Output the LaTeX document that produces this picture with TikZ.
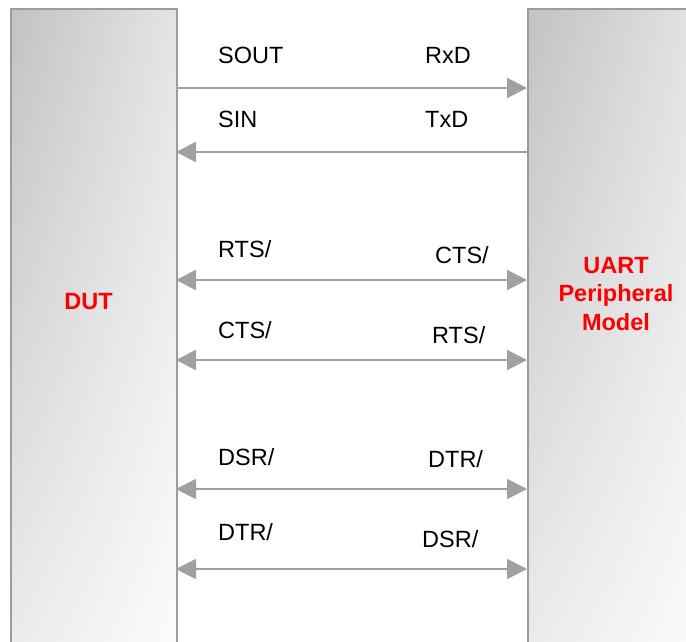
\documentclass[tikz,border=0pt]{standalone}
\usepackage{fontspec}
\setmainfont{Liberation Sans}
\usetikzlibrary{arrows.meta,shadings}
\definecolor{edgegray}{HTML}{9C9C9C}
\definecolor{arrowgray}{HTML}{A0A0A0}
\definecolor{lblred}{HTML}{FF0000}
\definecolor{cul}{HTML}{C2C2C2}
\definecolor{cur}{HTML}{E4E4E4}
\definecolor{cll}{HTML}{ECECEC}
\definecolor{clr}{HTML}{FCFCFC}
\tikzset{
  blockbox/.style={draw=edgegray, line width=1.6pt, rectangle, inner sep=0pt,
    upper left=cul, upper right=cur, lower left=cll, lower right=clr},
  sig/.style={draw=arrowgray, line width=1.8pt},
  tipr/.style={-{Triangle[length=20pt,width=20pt]}},
  tipl/.style={{Triangle[length=20pt,width=20pt]}-},
  tipb/.style={{Triangle[length=20pt,width=20pt]}-{Triangle[length=20pt,width=20pt]}},
  lbl/.style={anchor=base west, inner sep=0pt, font=\fontsize{23.5}{28}\selectfont},
  redlbl/.style={text=lblred, align=center, inner sep=0pt, font=\fontsize{23.5}{28.5}\bfseries\selectfont}
}
\begin{document}
\begin{tikzpicture}[x=1pt,y=-1pt]
\useasboundingbox[fill=white] (0,0) rectangle (686,641);
\begin{scope}
\clip (0,0) rectangle (686,641);
\node[blockbox, anchor=north west, minimum width=166pt, minimum height=650pt] (dut) at (10,8) {};
\node[blockbox, anchor=north west, minimum width=175pt, minimum height=650pt] (uart) at (527,8) {};
\end{scope}
\node[redlbl, anchor=base] (dutlbl) at (88.5,309) {DUT};
\node[redlbl, anchor=base] (uartlbl) at (616,330) {UART\\Peripheral\\Model};
% signals
\coordinate (a1) at (176,88);  \coordinate (b1) at (527,88);
\coordinate (a2) at (176,152); \coordinate (b2) at (527,152);
\coordinate (a3) at (176,280); \coordinate (b3) at (527,280);
\coordinate (a4) at (176,360); \coordinate (b4) at (527,360);
\coordinate (a5) at (176,489); \coordinate (b5) at (527,489);
\coordinate (a6) at (176,569); \coordinate (b6) at (527,569);
\draw[sig, tipr] (a1) -- (b1);
\draw[sig, tipl] (a2) -- (b2);
\draw[sig, tipb] (a3) -- (b3);
\draw[sig, tipb] (a4) -- (b4);
\draw[sig, tipb] (a5) -- (b5);
\draw[sig, tipb] (a6) -- (b6);
% labels
\node[lbl] (l1) at (218,63) {SOUT};
\node[lbl] (r1) at (425,63) {RxD};
\node[lbl] (l2) at (218,127) {SIN};
\node[lbl] (r2) at (425,127) {TxD};
\node[lbl] (l3) at (218,257) {RTS/};
\node[lbl] (r3) at (435,263) {CTS/};
\node[lbl] (l4) at (218,338) {CTS/};
\node[lbl] (r4) at (432,343) {RTS/};
\node[lbl] (l5) at (218,465) {DSR/};
\node[lbl] (r5) at (428,467) {DTR/};
\node[lbl] (l6) at (218,540) {DTR/};
\node[lbl] (r6) at (422,547) {DSR/};
\end{tikzpicture}
\end{document}
